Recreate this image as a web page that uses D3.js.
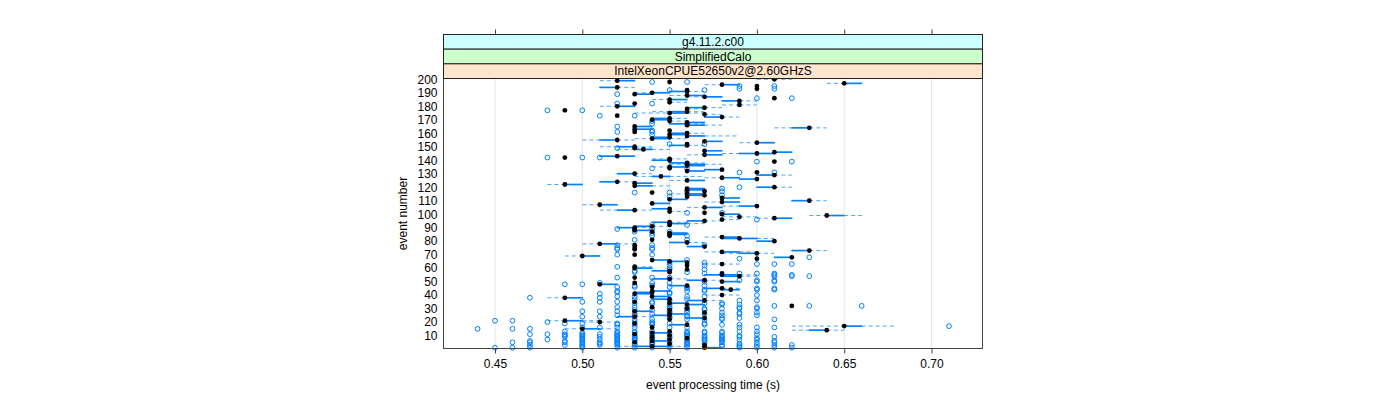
<!DOCTYPE html>
<html><head><meta charset="utf-8">
<script src="https://cdn.jsdelivr.net/npm/d3@7"></script>
<style>body{margin:0;background:#fff}svg{display:block;font-family:"Liberation Sans",Arial,Helvetica,sans-serif}</style>
</head><body><svg id="c" width="1400" height="400"></svg>
<script>
// ---- data ----
const stripLabels = ["g4.11.2.c00", "SimplifiedCalo", "IntelXeonCPUE52650v2@2.60GHzS"];
const stripColors = ["#ccffff", "#ccffcc", "#ffe5cc"];
const xTicks = [0.45, 0.50, 0.55, 0.60, 0.65, 0.70];
const yTicks = [10, 20, 30, 40, 50, 60, 70, 80, 90, 100, 110, 120, 130, 140, 150, 160, 170, 180, 190, 200];
const xLabel = "event processing time (s)";
const yLabel = "event number";
// per event, from event 200 down to event 1:
// "whiskerLow q1 median q3 whiskerHigh | outliers"  (hundredths of a second)
const boxStats = [
"60 61 61 61 62","51 52 52 53 53","55 55 55 55 55|54 56","64 65 65 66 66","57 58 58 59 59",
"60 60 60 60 60|59 61","51 51 52 52 53","60 60 60 60 60|59 61","56 56 56 56 56|55 57","55 55 56 56 57",
"53 54 54 55 55","53 53 53 54 54|52","55 56 56 57 57","56 57 57 58 58","61 61 61 61 61|60 62",
"54 55 55 56 56","58 58 59 59 60","55 55 55 55 56","53 53 53 53 53|52 54","58 59 59 59 60",
"51 52 52 53 53","56 56 57 57 58","56 56 56 56 57","49 49 49 49 49|48 50","54 55 56 56 57",
"53 55 55 56 57","57 57 57 57 58","52 52 52 52 52|51 53","57 57 58 58 59","54 54 55 55 56",
"54 54 54 55 55","55 55 55 55 56|54","56 56 56 57 57","55 55 56 56 57|54","56 56 56 57 58",
"53 53 53 54 54|52","61 62 63 63 64","53 53 53 54 54","55 55 55 55 55|54","53 53 53 53 53|52 54",
"55 55 56 56 57","55 55 55 56 56|54","56 56 56 57 59","54 54 55 55 55","53 54 54 55 56",
"50 51 52 52 53","57 57 57 58 58","59 60 60 61 61","56 56 56 56 56|55 57","55 55 56 56 57",
"51 52 53 53 54","53 53 53 53 54|52","52 53 53.5 54 55","57 57 57 58 58","61 61 61 62 62",
"58 59 60 61 61","56 57 57 58 58","51 51 52 53 53","49 49 49 49 49|48 50 51","54 55 55 55 56",
"54 54 55 55 55","61 61 61 61 61|60 62","55 55 56 56 57","55 56 56 57 58","56 56 56 57 57",
"54 55 55 56 56","55 55 55 55 55|54 56","57 57 58 58 58","56 56 56 57 57","60 60 60 60 60|59 61",
"52 52 53 53 54","60 60 61 61 62","53 54 54.5 55 57","57 58 58 59 59","59 59 60 60 60",
"55 56 56 57 57","51 51 52 52 53","53 53 53 54 54","48 49 49 50 50","53 53 53 54 55",
"60 60 61 61 62|59","56 56 56 57 57|58","56 56 56 57 57","57 57 57 57 57|56 58","54 54 54 54 54|53 55",
"55 56 56 57 57","56 56 57 57 57|58","56 56 56 56 56|55","58 58 58 59 59","55 55 55 56 56",
"62 62 63 63 64","57 58 58 59 59","54 54 54 55 55","50 51 51 52 52","58 59 60 60 60",
"56 57 57 58 58","54 54 55 55 55","51 52 53 53 54","55 55 55 55 56","57 57 57 57 57|56 58",
"58 58 58 59 59","63 64 64 65 66","58 59 59 59 60","60 61 61 62 62","58 58 58 58 59|60",
"56 56 57 57 58","54 54 55 55 56","55 55 55 56 57","55 55 55 55 55|54 56","53 53 54 54 55",
"52 52 53 53 54","53 53 53 53 53|52 54","53 53 53 54 54","54 54 54 54 54|53 55","55 55 55 56 56|54",
"55 55 55 56 56","55 55 55 55 55|54 56","57 58 58 59 59","58 58 59 60 61","54 54 54 54 54|53 56",
"60 60 61 61 61","55 55 56 56 57","50 51 51 52 53","53 53 53 53 53|52 54 57","56 56 57 57 57",
"53 53 53 53 53|52 54","53 53 53 53 53|52 54","62 62 63 63 64","57 58 58 59 60","58 59 60 60 61",
"53 53 53 53 53|52 54","49 50 50 51 51","61 61 62 62 62|63","60 60 60 60 60|59","54 54 54 55 55|56",
"55 55 55 56 56","56 56 56 56 56|55 57","57 58 58 58 59|60 61 62","56 56 56 56 56|55 57","53 53 53 53 54|52",
"53 53 53 54 54|55","56 56 56 56 56|55 57","54 54 55 55 55|53","55 55 55 55 55|53 56","58 58 58 58 58|57 59 60 61",
"57 57 58 59 60|61 62","58 58 59 59 60|61 62 63","53 53 53 53 53|52 54 55","54 54 55 55 56","56 56 57 57 58|59 60 61",
"58 58 58 59 59|57 60 61","53 53 53 53 53|51 54 55","51 51 51 52 52|49 50","55 55 56 56 56|53 54 57","54 54 54 54 54|52 53 55 56",
"57 57 58 58 59|56 60 61","58 58 58.5 59 59|57 60 61","54 54 54 55 55|52 56 57","53 53 54 54 54|52 55","53 53 53 54 54|51 55",
"57 58 58 58 59|60","54 54 54 55 55|52 53 56 57","48 49 49 50 50|47 51","54 54 55 55 55|53 56","56 56 57 57 58|55 59 60",
"53 53 53 53 53|50 51 52 54","55 55 55 56 56|53 54 57 58","56 56 56 57 57|55 58 59","62 62 62 62 62|61 63 66","54 54 54 54 54|52 53 55 56 59 60",
"56 56 56 56 56|55 57 58 59 60","55 55 55 55 55|53 54 56 57","53 53 53 54 54|50 51 52 55","57 57 57 57 57|55 56 58 59 60","55 55 55 56 56|53 54 57 59",
"54 54 55 55 55|52 53 56 58 60","52 52 53 53 54|50 51 55 56","56 56 57 57 57|55 58 59","55 55 55 55 55|53 54 56 57 58 61","48 49 49 50 51|45 46",
"50 51 51 51 52|48 53 54","53 53 53 53 53|49 50 52 54 55 57","55 55 56 56 56|52 53 54 57 58 59","62 65 65 66 68|71","54 54 54 54 54|50 51 52 53 55 56 59 60 61",
"49 50 50 51 52|44 46 47","62 63 64 64 65","55 55 55 55 55|49 52 53 54 56 57 58 59 60","54 54 54 55 55|50 52 53 56 57 58","53 53 53 53 53|47 48 49 50 51 52 54 55 56 60",
"55 55 55 55 55|49 50 52 53 54 56 57 58 59","54 54 54 54 54|49 50 51 52 53 55 56 57 58 59 61","56 56 56 56 56|50 52 53 54 55 57 58 60","55 55 55 55 55|48 50 51 52 53 54 56 57 58 59 60","54 54 54 55 55|47 49 50 52 53 56 57 58 61",
"53 53 53 53 53|46 47 49 50 51 52 54 55 56 58 60 61","55 55 55 55 55|50 51 52 53 54 56 57 59","57 57 57 57 57|47 49 50 51 52 53 54 55 56 58 59 60 61 62","52 53 54 55 56|50 57 58 59","57 57 57 58 58|45 46 47 50 52 53 54 55 56 59 60 61 62"
];

// ---- parse ----
const rows = boxStats.map((s, i) => {
  const [main, out] = s.split("|");
  const v = main.trim().split(/\s+/).map(d => +d / 100);
  return {
    event: boxStats.length - i,
    lo: v[0], q1: v[1], med: v[2], q3: v[3], hi: v[4],
    out: out ? out.trim().split(/\s+/).map(d => +d / 100) : []
  };
});

// ---- layout ----
const svg = d3.select("#c");
const L = 443.5, R = 982.5, T = 78.5, B = 348.5;
const x = d3.scaleLinear().domain([0.4205, 0.7292]).range([L, R]);
const y = d3.scaleLinear().domain([0.4, 200.6]).range([B, T]);
const blue = "#0080ff";
const rowH = Math.abs(y(1) - y(0));

// grid
svg.append("g").selectAll("line").data(xTicks).join("line")
  .attr("x1", d => x(d)).attr("x2", d => x(d)).attr("y1", T).attr("y2", B)
  .attr("stroke", "#e6e6e6").attr("stroke-width", 1);

const g = svg.append("g");
// whiskers
rows.forEach(r => {
  const yy = y(r.event);
  if (r.q1 > r.lo) g.append("line").attr("x1", x(r.lo)).attr("x2", x(r.q1)).attr("y1", yy).attr("y2", yy)
    .attr("stroke", blue).attr("stroke-opacity", 0.7).attr("stroke-dasharray", "4,3");
  if (r.hi > r.q3) g.append("line").attr("x1", x(r.q3)).attr("x2", x(r.hi)).attr("y1", yy).attr("y2", yy)
    .attr("stroke", blue).attr("stroke-opacity", 0.7).attr("stroke-dasharray", "4,3");
});
// boxes
g.selectAll("rect.box").data(rows.filter(r => r.q3 > r.q1)).join("rect").attr("class", "box")
  .attr("x", r => x(r.q1)).attr("width", r => x(r.q3) - x(r.q1))
  .attr("y", r => y(r.event) - rowH * 0.25).attr("height", rowH * 0.5)
  .attr("fill", "none").attr("stroke", blue).attr("stroke-width", 1);
// outliers
const outs = rows.flatMap(r => r.out.map(v => ({ event: r.event, v })));
g.selectAll("circle.out").data(outs).join("circle").attr("class", "out")
  .attr("cx", d => x(d.v)).attr("cy", d => y(d.event)).attr("r", 2.4)
  .attr("fill", "none").attr("stroke", blue).attr("stroke-width", 1);
// medians
g.selectAll("circle.med").data(rows).join("circle").attr("class", "med")
  .attr("cx", r => x(r.med)).attr("cy", r => y(r.event)).attr("r", 2.4)
  .attr("fill", "#000");

// panel border
svg.append("rect").attr("x", L).attr("y", T).attr("width", R - L).attr("height", B - T)
  .attr("fill", "none").attr("stroke", "#444");

// strips
const stripH = (T - 34.5) / 3;
stripLabels.forEach((lab, i) => {
  const sy = 34.5 + i * stripH;
  svg.append("rect").attr("x", L).attr("y", sy).attr("width", R - L).attr("height", stripH)
    .attr("fill", stripColors[i]).attr("stroke", "#222");
  svg.append("text").attr("x", (L + R) / 2).attr("y", sy + stripH / 2 + 4.3)
    .attr("text-anchor", "middle").attr("font-size", 12).attr("fill", "#000").text(lab);
});

// axes
const axB = svg.append("g").attr("transform", `translate(0,${B})`)
  .call(d3.axisBottom(x).tickValues(xTicks).tickFormat(d3.format(".2f")).tickSize(5).tickPadding(6));
const axT = svg.append("g").attr("transform", "translate(0,34.5)")
  .call(d3.axisTop(x).tickValues(xTicks).tickFormat("").tickSize(5));
const axL = svg.append("g").attr("transform", `translate(${L},0)`)
  .call(d3.axisLeft(y).tickValues(yTicks).tickSize(0).tickPadding(6));
[axB, axT, axL].forEach(a => {
  a.select(".domain").remove();
  a.selectAll("line").attr("stroke", "#444");
  a.selectAll("text").attr("font-size", 12).attr("fill", "#000")
    .attr("font-family", '"Liberation Sans",Arial,Helvetica,sans-serif');
});

svg.append("text").attr("x", (L + R) / 2).attr("y", 389).attr("text-anchor", "middle")
  .attr("font-size", 12).text(xLabel);
svg.append("text").attr("transform", `translate(407,${(T + B) / 2}) rotate(-90)`)
  .attr("text-anchor", "middle").attr("font-size", 12).text(yLabel);
</script></body></html>
